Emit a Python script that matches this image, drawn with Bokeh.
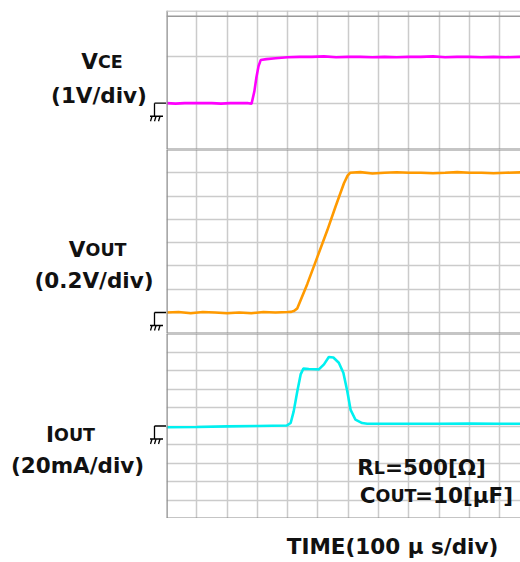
from bokeh.plotting import figure
from bokeh.layouts import column, row
from bokeh.models import Range1d, FixedTicker, Span, Label
from bokeh.embed import file_html
from bokeh.resources import INLINE

# ---------------- data (time in microseconds) ----------------
vce_t = [0, 30, 60, 90, 120, 150, 180, 210, 240, 270, 281, 290, 297, 304, 311,
         330, 360, 400, 440, 480, 520, 560, 600, 640, 680, 720, 760, 800, 840,
         880, 920, 960, 1000, 1040, 1080, 1120, 1169]
vce_v = [0.0, -0.01, 0.0, 0.0, 0.0, 0.0, -0.01, 0.0, 0.0, 0.0, -0.01, 0.25, 0.56,
         0.80, 0.93, 0.95, 0.97, 0.99, 1.0, 1.0, 1.01, 0.99, 1.0, 1.0, 0.99, 1.0,
         0.99, 1.0, 1.0, 1.01, 0.99, 1.0, 1.0, 0.99, 1.0, 0.99, 1.0]

vout_t = [0, 40, 80, 120, 160, 200, 240, 280, 320, 360, 400, 412, 422, 432, 465,
          498, 531, 558, 586, 598, 606, 640, 680, 720, 760, 800, 840, 880, 920,
          960, 1000, 1040, 1080, 1120, 1169]
vout_v = [0.0, 0.002, -0.003, 0.002, 0.0, -0.003, 0.0, -0.003, 0.002, 0.0, 0.002,
          0.003, 0.008, 0.018, 0.123, 0.238, 0.353, 0.454, 0.555, 0.588, 0.6,
          0.603, 0.597, 0.6, 0.602, 0.6, 0.6, 0.598, 0.6, 0.603, 0.6, 0.6, 0.598,
          0.6, 0.602]

iout_t = [0, 100, 200, 300, 398, 410, 420, 432, 443, 452, 470, 490, 503, 520, 536,
          551, 569, 584, 597, 608, 624, 646, 663, 700, 800, 900, 1000, 1100, 1169]
iout_ma = [-0.7, -0.5, -0.2, 0.0, 0.3, 1.6, 7.9, 18.8, 27.9, 31.0, 30.8, 30.7,
           30.6, 33.3, 37.3, 37.0, 34.2, 28.8, 18.8, 8.7, 3.4, 1.6, 1.2, 1.2, 1.2,
           1.2, 1.3, 1.2, 1.2]

time_ticks = [100, 200, 300, 400, 500, 600, 700, 800, 900, 1000, 1100]
vce_ticks = [0, 1]
vout_ticks = [0.0, 0.1, 0.2, 0.3, 0.4, 0.5, 0.6]
iout_ticks = [-40, -30, -20, -10, 0, 10, 20, 30, 40]

# ---------------- layout constants ----------------
LW = 166            # width of the left label strip
PW = 354            # width of the plot frame
X_MAX = 1169
UX = X_MAX / PW     # microseconds per pixel

FONT = "DejaVu Sans"
BIG = "21.5px"
SMALL = "17.5px"
GRID = "#cbcbcb"
DARK = "#8c8c8c"

xr = Range1d(0, X_MAX)


def base_fig(width, height, xrange, yrange, btop=0):
    p = figure(width=width, height=height, x_range=xrange, y_range=yrange,
               output_backend="svg", toolbar_location=None,
               x_axis_location=None, y_axis_location=None,
               min_border_left=0, min_border_right=0, min_border_top=btop,
               min_border_bottom=0)
    p.outline_line_color = None
    return p


def make_panel(height, yr, yticks, btop=0):
    p = base_fig(PW, height, xr, yr, btop)
    p.xgrid.ticker = FixedTicker(ticks=time_ticks)
    p.ygrid.ticker = FixedTicker(ticks=yticks)
    for g in (p.xgrid, p.ygrid):
        g.grid_line_color = GRID
        g.grid_line_width = 1.5
    p.add_layout(Span(location=0, dimension="height", line_color=DARK, line_width=2.5))
    return p


def make_side(height, yr, btop=0):
    p = base_fig(LW, height, Range1d(0, LW), yr, btop)
    p.xgrid.visible = False
    p.ygrid.visible = False
    return p


def mapper(T, B, lo, hi):
    return lambda y: lo + (B - y) * (hi - lo) / (B - T)


def label(p, x, y, text, size, align):
    p.add_layout(Label(x=x, y=y, text=text, text_font=FONT,
                       text_font_style="bold", text_font_size=size,
                       text_align=align, text_baseline="alphabetic",
                       text_color="#111111"))


def ground(side, ty, y0):
    # y0 is the panel's zero level in image pixels
    segs = [((-12, 0), (0, 0)), ((-12, 0), (-12, 13)), ((-16.5, 13), (-3.5, 13)),
            ((-14.5, 13), (-16, 18)), ((-10.5, 13), (-12, 18)), ((-6.5, 13), (-8, 18))]
    side.segment(x0=[LW + a[0] for a, b in segs], y0=[ty(y0 + a[1]) for a, b in segs],
                 x1=[LW + b[0] for a, b in segs], y1=[ty(y0 + b[1]) for a, b in segs],
                 line_color="black", line_width=1.3)


# ---- panel 1: VCE ----
yr1 = Range1d(-1, 2)
t1 = mapper(11, 149, -1, 2)
p1 = make_panel(149, yr1, vce_ticks, btop=10)
p1.add_layout(Span(location=t1(11.5), dimension="width", line_color="#c4c4c4", line_width=1.5))
p1.add_layout(Span(location=t1(16.7), dimension="width", line_color="#9a9a9a", line_width=1.5))
p1.add_layout(Span(location=-1, dimension="width", line_color=DARK, line_width=2))
p1.line(vce_t, vce_v, line_color="#ff00ff", line_width=2.6)
s1 = make_side(149, yr1, btop=10)
label(s1, 97.5, t1(62), "V", BIG, "right")
label(s1, 97.5, t1(62), "CE", SMALL, "left")
label(s1, 98.5, t1(95), "(1V/div)", BIG, "center")
ground(s1, t1, 103)

# ---- panel 2: VOUT ----
yr2 = Range1d(-0.09, 0.7)
t2 = mapper(149, 333, -0.09, 0.7)
p2 = make_panel(184, yr2, vout_ticks)
p2.add_layout(Span(location=0.7, dimension="width", line_color=DARK, line_width=2))
p2.add_layout(Span(location=-0.09, dimension="width", line_color=DARK, line_width=2))
p2.line(vout_t, vout_v, line_color="#ff9a00", line_width=2.6)
s2 = make_side(184, yr2)
label(s2, 85, t2(249), "V", BIG, "right")
label(s2, 85, t2(249), "OUT", SMALL, "left")
label(s2, 93.5, t2(280), "(0.2V/div)", BIG, "center")
ground(s2, t2, 312)

# ---- panel 3: IOUT ----
yr3 = Range1d(-50, 50)
t3 = mapper(333, 518, -50, 50)
p3 = make_panel(185, yr3, iout_ticks)
p3.add_layout(Span(location=50, dimension="width", line_color=DARK, line_width=2))
p3.add_layout(Span(location=-50, dimension="width", line_color=DARK, line_width=2))
p3.line(iout_t, iout_ma, line_color="#00f0f0", line_width=2.6)
s3 = make_side(185, yr3)
label(s3, 53.5, t3(434), "I", BIG, "right")
label(s3, 53.5, t3(434), "OUT", SMALL, "left")
label(s3, 77, t3(465), "(20mA/div)", BIG, "center")
ground(s3, t3, 425.5)


def X(ximg):
    return (ximg - LW) * UX


label(p3, X(373.3), t3(467), "R", BIG, "right")
label(p3, X(373.3), t3(467), "L", SMALL, "left")
label(p3, X(384.5), t3(467), "=500[Ω]", BIG, "left")
label(p3, X(375), t3(495), "C", BIG, "right")
label(p3, X(375), t3(495), "OUT", SMALL, "left")
label(p3, X(414.5), t3(495), "=10[μF]", BIG, "left")

# ---- bottom strip with the time label ----
bot = base_fig(LW + PW, 44, Range1d(0, LW + PW), Range1d(562, 518))
bot.xgrid.visible = False
bot.ygrid.visible = False
label(bot, 392, 546, "TIME(100 μ s/div)", BIG, "center")

layout = column(row(s1, p1, spacing=0), row(s2, p2, spacing=0),
                row(s3, p3, spacing=0), bot, spacing=0)
open("out.html", "w").write(file_html(layout, INLINE))
